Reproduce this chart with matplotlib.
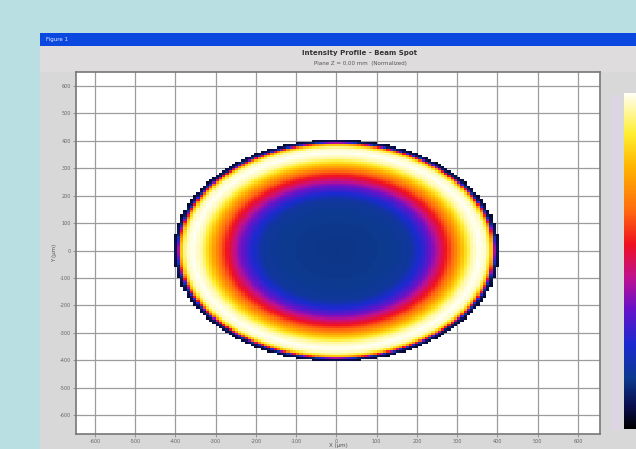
import numpy as np
import matplotlib
matplotlib.use("Agg")
import matplotlib.pyplot as plt
from matplotlib.colors import LinearSegmentedColormap
from matplotlib.patches import Rectangle

# ---- data ----
x_ticks = [-600, -500, -400, -300, -200, -100, 0, 100, 200, 300, 400, 500, 600]
y_ticks = [-600, -500, -400, -300, -200, -100, 0, 100, 200, 300, 400, 500, 600]
spot_radius = 405
# normalized radius vs normalized intensity along the spot profile
prof_r = [0.00, 0.30, 0.45, 0.52, 0.58, 0.63, 0.68, 0.73, 0.78, 0.83, 0.88, 0.925, 0.95, 0.965, 0.978, 1.00]
prof_v = [0.14, 0.15, 0.17, 0.26, 0.36, 0.47, 0.57, 0.69, 0.82, 0.95, 1.00, 0.96, 0.80, 0.52, 0.10, 0.04]
grid_step = 8

title_txt = "Intensity Profile - Beam Spot"
subtitle_txt = "Plane Z = 0.00 mm  (Normalized)"
xlabel_txt = "X (µm)"
ylabel_txt = "Y (µm)"
window_txt = "Figure 1"

W, H = 636, 449
fig = plt.figure(figsize=(W / 100, H / 100), dpi=100, facecolor="#b9dfe2")

def fx(px):
    return px / W

def fy(py):
    return 1 - py / H

# window body and title bar
fig.patches.append(Rectangle((fx(40), 0), fx(596), fy(33), transform=fig.transFigure,
                             facecolor="#d9d8d8", edgecolor="none", zorder=-3))
fig.patches.append(Rectangle((fx(40), fy(46)), fx(596), 13 / H, transform=fig.transFigure,
                             facecolor="#0a48e0", edgecolor="none", zorder=-2))
fig.patches.append(Rectangle((fx(40), fy(72)), fx(596), 26 / H, transform=fig.transFigure,
                             facecolor="#dedcdc", edgecolor="none", zorder=-2))
fig.patches.append(Rectangle((fx(611), fy(430)), fx(10), 335 / H, transform=fig.transFigure,
                             facecolor="#ddd6e2", edgecolor="none", zorder=-2))
fig.text(fx(46), fy(40), window_txt, color="#e8eeff", fontsize=4, va="center", ha="left")
fig.text(fx(360), fy(53), title_txt, color="#333333", fontsize=5, va="center", ha="center",
         fontweight="bold")
fig.text(fx(360), fy(63), subtitle_txt, color="#555555", fontsize=4, va="center", ha="center")

colors = [(0.00, "#000000"), (0.07, "#0a1050"), (0.15, "#0d3a8f"), (0.25, "#1a2ad0"),
          (0.36, "#6a12c8"), (0.45, "#c01090"), (0.55, "#f01020"), (0.65, "#ff6a10"),
          (0.78, "#ffb400"), (0.88, "#ffee30"), (1.00, "#fffff4")]
cmap = LinearSegmentedColormap.from_list("spot", colors)

ax = fig.add_axes([fx(76), fy(434), 524 / W, 362 / H])
ax.set_zorder(5)
ax.set_facecolor("white")
ax.set_xlim(-647, 655)
ax.set_ylim(-669, 651)
ax.set_xticks(x_ticks)
ax.set_yticks(y_ticks)
ax.set_xticklabels([str(v) for v in x_ticks], fontsize=3.5, color="#666666")
ax.set_yticklabels([str(v) for v in y_ticks], fontsize=3.5, color="#666666")
ax.tick_params(length=2, width=0.6, color="#888888", pad=1.5)
ax.grid(True, color="#9c9c9c", linewidth=0.9)
ax.set_axisbelow(True)
for s in ax.spines.values():
    s.set_color("#777777")
    s.set_linewidth(1.2)

gx = np.arange(-640, 641, grid_step)
gy = np.arange(-640, 641, grid_step)
X, Y = np.meshgrid(gx, gy)
R = np.sqrt(X ** 2 + Y ** 2) / spot_radius
V = np.interp(R, prof_r, prof_v)
V = np.ma.masked_where(R > 1.0, V)
ax.pcolormesh(gx, gy, V, cmap=cmap, vmin=0, vmax=1, shading="nearest", zorder=3)

fig.text(fx(338), fy(445), xlabel_txt, fontsize=4, color="#555555", ha="center", va="center")
ax.set_ylabel(ylabel_txt, fontsize=4, color="#555555", labelpad=2)

# colorbar
cax = fig.add_axes([fx(624), fy(429), 14 / W, 336 / H])
cax.set_zorder(5)
grad = np.linspace(0, 1, 256).reshape(-1, 1)
cax.imshow(grad, aspect="auto", cmap=cmap, origin="lower", extent=[0, 1, 0, 1])
cax.set_xticks([])
cax.set_yticks([])
for s in cax.spines.values():
    s.set_visible(False)

fig.savefig("out.png", dpi=100, facecolor=fig.get_facecolor())
